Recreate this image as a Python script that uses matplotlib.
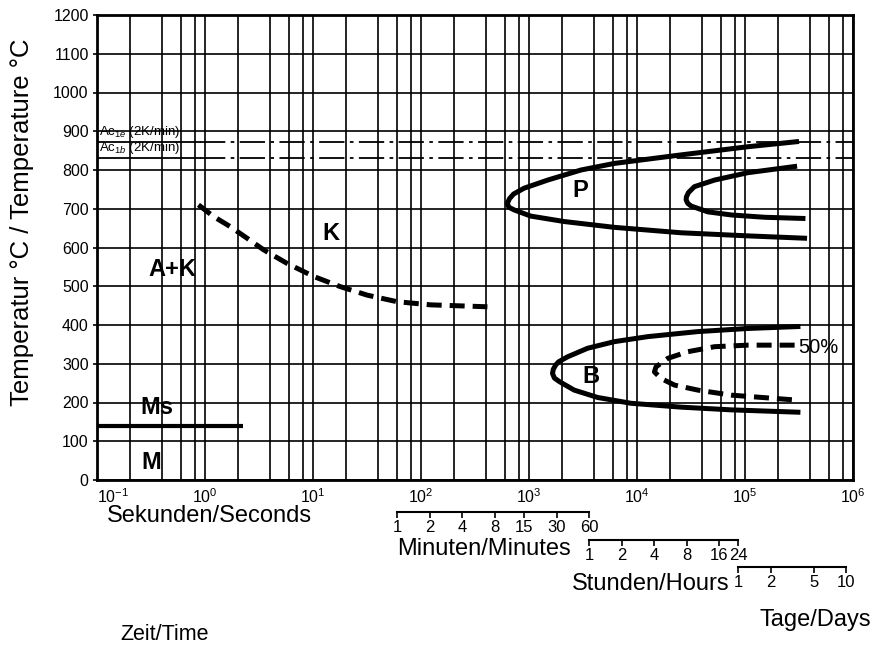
import numpy as np
import matplotlib
matplotlib.use('Agg')
import matplotlib.pyplot as plt
from matplotlib.ticker import LogLocator, NullFormatter, NullLocator

plt.rcParams['font.family'] = ['Liberation Sans', 'DejaVu Sans']
plt.rcParams['mathtext.fontset'] = 'custom'
plt.rcParams['mathtext.rm'] = 'Liberation Sans'
plt.rcParams['mathtext.it'] = 'Liberation Sans:italic'

# --- data (time in s, temperature in °C) ---
decades = [1e-1, 1e0, 1e1, 1e2, 1e3, 1e4, 1e5, 1e6]
decade_labels = ['$10^{-1}$', '$10^{0}$', '$10^{1}$', '$10^{2}$',
                 '$10^{3}$', '$10^{4}$', '$10^{5}$', '$10^{6}$']
temp_ticks = list(range(0, 1201, 100))

ac1e = 873
ac1b = 832
ms_temp = 139
ms_time = [0.1, 2.25]

# perlite start (outer C)
p_start_t = [300000, 106000, 25600, 6170, 3030, 1490, 900, 720, 660, 630, 650,
             728, 1040, 2120, 6170, 25600, 106000, 356000]
p_start_T = [873, 860, 839, 817, 800, 774, 753, 738, 726, 714, 704,
             697, 681, 667, 652, 638, 630, 624]
# perlite finish (inner C)
p_end_t = [288000, 106000, 52200, 34000, 30000, 28700, 28500, 29500, 31700,
           45300, 74500, 152000, 344000]
p_end_T = [809, 793, 774, 757, 742, 731, 723, 714, 707, 692, 684, 678, 675]

# bainite start
b_start_t = [309000, 106000, 36600, 12600, 6170, 3490, 2280, 1880, 1770, 1680,
             1650, 1720, 1910, 2620, 4320, 8790, 25600, 74500, 309000]
b_start_T = [396, 391, 383, 370, 357, 340, 318, 305, 297, 286,
             275, 263, 254, 232, 213, 198, 188, 181, 175]
# bainite 50 %
b_50_t = [288000, 106000, 52200, 29500, 19300, 15000, 14500, 16700, 22200,
          36600, 74500, 309000]
b_50_T = [348, 348, 344, 331, 314, 292, 279, 262, 245, 232, 219, 206]

# carbide precipitation (dashed)
k_t = [0.87, 1.2, 1.71, 2.45, 3.49, 5.75, 10.2, 17.9, 31.8, 60.3, 123, 412]
k_T = [710, 680, 654, 624, 594, 559, 525, 499, 477, 460, 452, 447]

# extra time scales below the axis (in seconds)
min_ticks = [60, 120, 240, 480, 900, 1800, 3600]
min_labels = ['1', '2', '4', '8', '15', '30', '60']
hour_ticks = [3600, 7200, 14400, 28800, 57600, 86400]
hour_labels = ['1', '2', '4', '8', '16', '24']
day_ticks = [86400, 172800, 432000, 864000]
day_labels = ['1', '2', '5', '10']

fig = plt.figure(figsize=(8.83, 6.5), dpi=100)
L, W = 97 / 883, (853 - 97) / 883
ax = fig.add_axes([L, 1 - 480 / 650, W, (480 - 15) / 650])
ax.set_xscale('log')
ax.set_xlim(1e-1, 1e6)
ax.set_ylim(0, 1200)

ax.set_xticks(decades)
ax.set_xticklabels(decade_labels)
ax.get_xticklabels()[0].set_ha('left')
ax.xaxis.set_minor_locator(LogLocator(base=10, subs=[2, 4, 6, 8], numticks=20))
ax.xaxis.set_minor_formatter(NullFormatter())
ax.set_yticks(temp_ticks)
ax.tick_params(axis='x', which='both', length=0, pad=5, labelsize=11.5)
ax.tick_params(axis='y', length=3, width=1.2, pad=3, labelsize=11.5)
ax.grid(which='both', axis='x', color='black', lw=1.2)
ax.grid(which='major', axis='y', color='black', lw=1.2)
for s in ax.spines.values():
    s.set_linewidth(2)
    s.set_color('black')

# Ac1 lines
for T, lab in [(ac1e, 'Ac$_{1e}$ (2K/min)'), (ac1b, 'Ac$_{1b}$ (2K/min)')]:
    ax.plot([0.1, 0.9], [T, T], color='black', lw=1.3)
    ax.plot([0.9, 1e6], [T, T], color='black', lw=1.3, dashes=(14, 3, 2, 3))
    ax.text(0.105, T + 5, lab, fontsize=9.5, va='bottom', ha='left')

# Ms line
ax.plot(ms_time, [ms_temp, ms_temp], color='black', lw=3, solid_capstyle='butt')

lw_c = 3.6
ax.plot(p_start_t, p_start_T, color='black', lw=lw_c, solid_joinstyle='round')
ax.plot(p_end_t, p_end_T, color='black', lw=lw_c, solid_joinstyle='round')
ax.plot(b_start_t, b_start_T, color='black', lw=lw_c, solid_joinstyle='round')
ax.plot(b_50_t, b_50_T, color='black', lw=lw_c, dashes=(3, 1.6),
        dash_capstyle='butt')
ax.plot(k_t, k_T, color='black', lw=lw_c, dashes=(3, 1.6), dash_capstyle='butt')

lab_kw = dict(fontsize=17, fontweight='bold', ha='center', va='center')
ax.text(0.50, 542, 'A+K', **lab_kw)
ax.text(14.8, 637, 'K', **lab_kw)
ax.text(3000, 748, 'P', **lab_kw)
ax.text(3740, 266, 'B', **lab_kw)
ax.text(0.36, 188, 'Ms', **lab_kw)
ax.text(0.32, 46, 'M', **lab_kw)
ax.text(310000, 343, '50%', fontsize=14.5, ha='left', va='center')


def time_scale(ypix, ticks, labels):
    sax = fig.add_axes([L, 1 - ypix / 650, W, 0.001])
    sax.set_xscale('log')
    sax.set_xlim(1e-1, 1e6)
    sax.patch.set_visible(False)
    for k in ['top', 'left', 'right']:
        sax.spines[k].set_visible(False)
    sax.spines['bottom'].set_bounds(ticks[0], ticks[-1])
    sax.spines['bottom'].set_linewidth(1.5)
    sax.set_xticks(ticks)
    sax.set_xticklabels(labels)
    sax.xaxis.set_minor_locator(NullLocator())
    sax.set_yticks([])
    sax.tick_params(axis='x', length=4, width=1.2, pad=2, labelsize=12)
    return sax


time_scale(512, min_ticks, min_labels)
time_scale(540, hour_ticks, hour_labels)
time_scale(567, day_ticks, day_labels)

fig.text(107 / 883, 1 - 516 / 650, 'Sekunden/Seconds', fontsize=17, va='center')
fig.text(397 / 883, 1 - 549 / 650, 'Minuten/Minutes', fontsize=17, va='center')
fig.text(572 / 883, 1 - 584 / 650, 'Stunden/Hours', fontsize=17, va='center')
fig.text(760 / 883, 1 - 620 / 650, 'Tage/Days', fontsize=17, va='center')
fig.text(120 / 883, 1 - 635 / 650, 'Zeit/Time', fontsize=15.5, va='center')
fig.text(22 / 883, 1 - 222 / 650, 'Temperatur °C / Temperature °C', fontsize=18.5,
         rotation=90, ha='center', va='center')

fig.savefig('out.png', dpi=100)
